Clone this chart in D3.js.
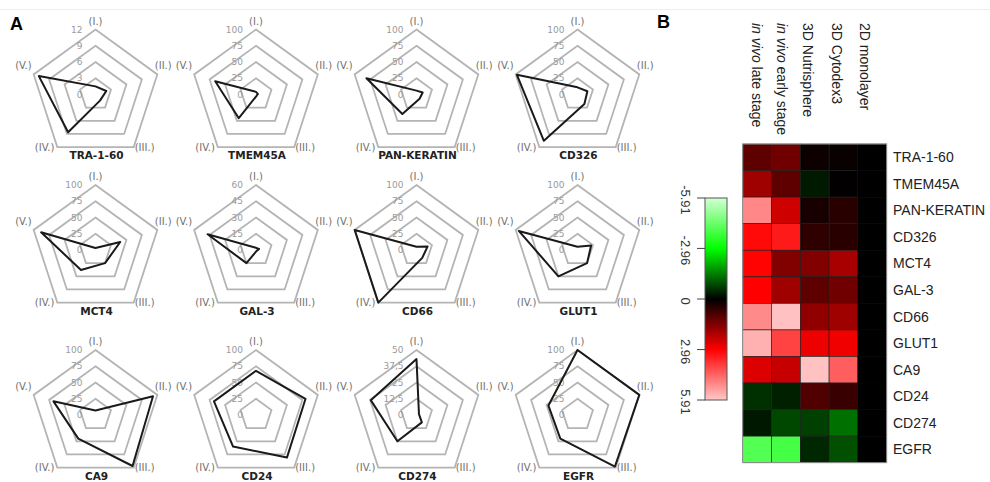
<!DOCTYPE html>
<html>
<head>
<meta charset="utf-8">
<script src="https://cdn.jsdelivr.net/npm/d3@7"></script>
<style>
  body { margin: 0; background: #fff; }
  svg { display: block; }
</style>
</head>
<body>
<div id="chart"></div>
<script>
// ---- data ----
const markers = ["TRA-1-60", "TMEM45A", "PAN-KERATIN", "CD326", "MCT4", "GAL-3",
                 "CD66", "GLUT1", "CA9", "CD24", "CD274", "EGFR"];
const axisLabels = ["(I.)", "(II.)", "(III.)", "(IV.)", "(V.)"];
const radarMax = [12, 100, 100, 100, 100, 60, 100, 100, 100, 100, 50, 100];
// values on axes I..V for each marker
const radarValues = [
  [1.5, 2.1, 1.4, 8.6, 11.0],
  [4, 3, 2, 45, 66],
  [6, 10, 8, 37, 81],
  [11, 16, 18, 88, 98],
  [3, 40, 25, 38, 88],
  [2, 3, 1, 15, 47],
  [5, 18, 15, 100, 100],
  [5, 22, 25, 50, 95],
  [7, 93, 97, 45, 68],
  [68, 80, 81, 60, 68],
  [43, 2, 7, 25, 37],
  [100, 100, 98, 45, 47]
];

const conditions = ["in vivo late stage", "in vivo early stage", "3D Nutrisphere", "3D Cytodex3", "2D monolayer"];
// log fold change per marker, columns in the order of conditions
const heatValues = [
  [1.1, 1.3, 0.15, 0.1, 0],
  [1.85, 1.1, -0.3, 0.02, 0],
  [4.95, 2.4, 0.28, 0.46, 0],
  [3.1, 3.35, 0.55, 0.46, 0],
  [3.0, 1.5, 1.5, 1.95, 0],
  [2.96, 1.85, 1.1, 1.3, 0],
  [5.0, 5.8, 1.67, 1.85, 0],
  [5.55, 3.95, 2.75, 2.8, 0],
  [2.55, 2.3, 5.8, 4.35, 0],
  [-0.55, -0.37, 0.93, 0.65, 0],
  [-0.28, -0.84, -0.74, -1.3, 0],
  [-4.1, -3.9, -0.46, -0.93, 0]
];
const legendTicks = [-5.91, -2.96, 0, 2.96, 5.91];
const legendColors = ["#d4ffd4", "#00ff00", "#000000", "#ff0000", "#ffc8c8"];

// ---- layout ----
const width = 990, height = 482;
const svg = d3.select("#chart").append("svg")
  .attr("width", width)
  .attr("height", height);

svg.append("line")
  .attr("x1", 0).attr("x2", width).attr("y1", 9.5).attr("y2", 9.5)
  .attr("stroke", "#eeeeee");

svg.append("text").attr("x", 10).attr("y", 30)
  .attr("font-family", "Liberation Sans, Arial, sans-serif")
  .attr("font-weight", "bold").attr("font-size", 18).text("A");
svg.append("text").attr("x", 657).attr("y", 28)
  .attr("font-family", "Liberation Sans, Arial, sans-serif")
  .attr("font-weight", "bold").attr("font-size", 18).text("B");

// ---- radar charts ----
const colX = [95.5, 256, 416.5, 577.5];
const rowY = [94.5, 250, 415];
const R = 65;
const angle = d3.scaleLinear().domain([0, 5]).range([0, 2 * Math.PI]);
const commaFmt = v => String(v).replace(".", ",");

markers.forEach((name, i) => {
  const cx = colX[i % 4], cy = rowY[Math.floor(i / 4)];
  const g = svg.append("g").attr("transform", `translate(${cx},${cy})`)
    .attr("font-family", "DejaVu Sans, sans-serif");
  const r = d3.scaleLinear().domain([0, radarMax[i]]).range([0, R]);
  const ticks = d3.range(0, 5).map(k => radarMax[i] * k / 4);

  const ring = d3.lineRadial()
    .angle((d, k) => angle(k))
    .curve(d3.curveLinearClosed);

  // grid pentagons
  g.selectAll("path.grid")
    .data(ticks.slice(1))
    .join("path")
    .attr("class", "grid")
    .attr("d", t => ring.radius(() => r(t))(d3.range(5)))
    .attr("fill", "none")
    .attr("stroke", "#b4b4b4")
    .attr("stroke-width", 1.8);

  // tick labels
  g.selectAll("text.tick")
    .data(ticks)
    .join("text")
    .attr("class", "tick")
    .attr("x", -13)
    .attr("y", t => -r(t))
    .attr("dy", "0.35em")
    .attr("text-anchor", "end")
    .attr("font-size", 9)
    .attr("fill", "#9a9a9a")
    .text(t => commaFmt(t));

  // axis labels
  const anchors = ["middle", "start", "start", "end", "end"];
  const offs = [[0, -8.5], [-2.5, -8.7], [1, 0], [-3, 0], [-2, -8.7]];
  g.selectAll("text.ax")
    .data(axisLabels)
    .join("text")
    .attr("class", "ax")
    .attr("x", (d, k) => R * Math.sin(angle(k)) + offs[k][0])
    .attr("y", (d, k) => -R * Math.cos(angle(k)) + offs[k][1])
    .attr("dy", "0.35em")
    .attr("text-anchor", (d, k) => anchors[k])
    .attr("font-size", 10)
    .attr("fill", "#707070")
    .text(d => d);

  // data polygon
  g.append("path")
    .datum(radarValues[i])
    .attr("d", d3.lineRadial()
      .angle((d, k) => angle(k))
      .radius(d => r(d))
      .curve(d3.curveLinearClosed))
    .attr("fill", "none")
    .attr("stroke", "#1a1a1a")
    .attr("stroke-width", 2)
    .attr("stroke-linejoin", "round");

  g.append("text")
    .attr("x", 1)
    .attr("y", 64.5)
    .attr("text-anchor", "middle")
    .attr("font-size", 10.5)
    .attr("font-weight", "bold")
    .attr("fill", "#222")
    .text(name);
});

// ---- heatmap ----
const hx = d3.scaleBand().domain(conditions).range([742.7, 886.7]);
const hy = d3.scaleBand().domain(markers).range([144, 462.7]);
const color = d3.scaleLinear().domain(legendTicks).range(legendColors).clamp(true);

const cells = [];
heatValues.forEach((row, ri) => row.forEach((v, ci) => cells.push({ m: markers[ri], c: conditions[ci], v })));

const hm = svg.append("g").attr("font-family", "Liberation Sans, Arial, sans-serif");
hm.selectAll("rect.cell")
  .data(cells)
  .join("rect")
  .attr("class", "cell")
  .attr("x", d => hx(d.c))
  .attr("y", d => hy(d.m))
  .attr("width", hx.bandwidth())
  .attr("height", hy.bandwidth())
  .attr("fill", d => color(d.v))
  .attr("stroke", d => d.c === "2D monolayer" ? "#000" : "#1a1a1a")
  .attr("stroke-width", 0.6);

hm.append("rect")
  .attr("x", hx.range()[0]).attr("y", hy.range()[0])
  .attr("width", hx.range()[1] - hx.range()[0])
  .attr("height", hy.range()[1] - hy.range()[0])
  .attr("fill", "none").attr("stroke", "#999").attr("stroke-width", 1);

// row labels
hm.selectAll("text.row")
  .data(markers)
  .join("text")
  .attr("class", "row")
  .attr("x", 893)
  .attr("y", d => hy(d) + hy.bandwidth() / 2)
  .attr("dy", "0.35em")
  .attr("font-size", 14)
  .attr("fill", "#222")
  .text(d => d);

// column labels, rotated
const colLabelX = [756.7, 781.7, 808.3, 837.3, 865];
const colLab = hm.selectAll("text.col")
  .data(conditions)
  .join("text")
  .attr("class", "col")
  .attr("transform", (d, k) => `translate(${colLabelX[k]},23) rotate(90)`)
  .attr("dy", "0.35em")
  .attr("font-size", 14)
  .attr("fill", "#222");
colLab.each(function (d) {
  const t = d3.select(this);
  if (d.startsWith("in vivo")) {
    t.append("tspan").attr("font-style", "italic").text("in vivo");
    t.append("tspan").text(d.slice(7));
  } else {
    t.text(d);
  }
});

// ---- colour key ----
const ly = d3.scaleLinear().domain([-5.91, 5.91]).range([198, 400]);
const defs = svg.append("defs");
const grad = defs.append("linearGradient").attr("id", "key")
  .attr("x1", 0).attr("x2", 0).attr("y1", 0).attr("y2", 1);
grad.selectAll("stop")
  .data(legendTicks)
  .join("stop")
  .attr("offset", d => (ly(d) - ly.range()[0]) / (ly.range()[1] - ly.range()[0]))
  .attr("stop-color", d => color(d));

svg.append("rect")
  .attr("x", 705).attr("y", ly.range()[0])
  .attr("width", 22).attr("height", ly.range()[1] - ly.range()[0])
  .attr("fill", "url(#key)")
  .attr("stroke", "#555").attr("stroke-width", 1);

const key = svg.append("g").attr("font-family", "Liberation Sans, Arial, sans-serif");
key.selectAll("line")
  .data(legendTicks)
  .join("line")
  .attr("x1", 697).attr("x2", 705)
  .attr("y1", d => ly(d)).attr("y2", d => ly(d))
  .attr("stroke", "#444");
key.selectAll("text")
  .data(legendTicks)
  .join("text")
  .attr("transform", d => `translate(686,${ly(d) + 2}) rotate(90)`)
  .attr("text-anchor", "middle")
  .attr("dy", "0.35em")
  .attr("font-size", 13)
  .attr("fill", "#333")
  .text(d => d);
</script>
</body>
</html>
